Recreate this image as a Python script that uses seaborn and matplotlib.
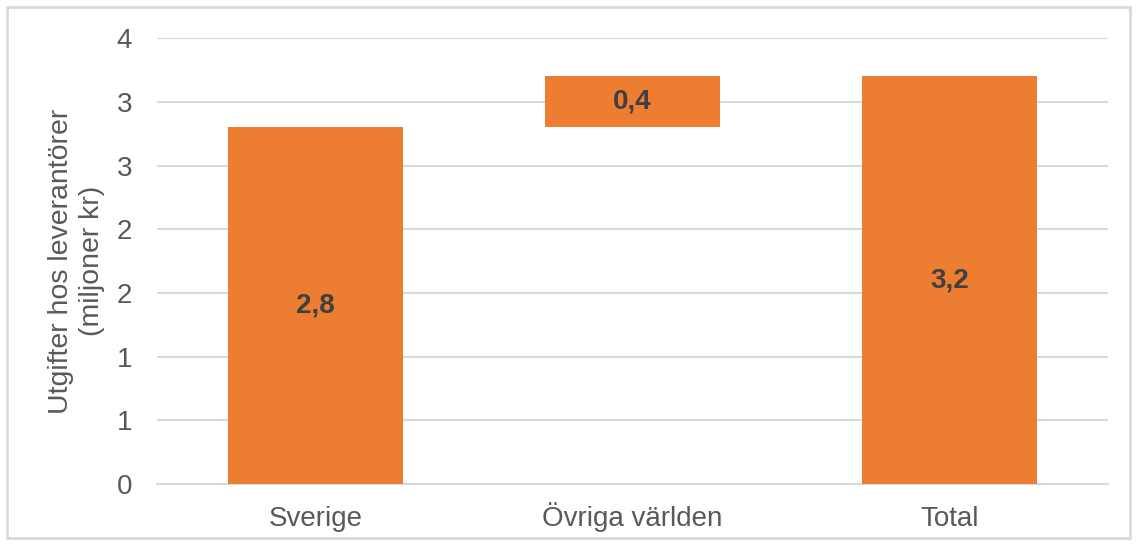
import numpy as np
import pandas as pd
import matplotlib
matplotlib.use("Agg")
import matplotlib.pyplot as plt
from matplotlib.ticker import FuncFormatter, MultipleLocator
import seaborn as sns

categories = ["Sverige", "Övriga världen", "Total"]
values = [2.8, 0.4, 3.2]
bases = [0.0, 2.8, 0.0]  # waterfall: floating bar starts where Sverige ends
labels = ["2,8", "0,4", "3,2"]

ORANGE = "#ED7D31"
GRAY = "#595959"
GRID = "#D9D9D9"

sns.set_theme(style="white")
plt.rcParams["font.family"] = ["Liberation Sans", "DejaVu Sans"]

df = pd.DataFrame({"kategori": categories, "varde": values})

fig = plt.figure(figsize=(11.37, 5.45), dpi=100)
ax = fig.add_axes([0.138, 0.112, 0.8365, 0.818])

sns.barplot(data=df, x="kategori", y="varde", color=ORANGE, saturation=1,
            width=0.552, bottom=bases, ax=ax, zorder=3, linewidth=0)

ax.bar_label(ax.containers[0], labels=labels, label_type="center",
             fontsize=20, fontweight="bold", color="#404040")

ax.set_ylim(0, 3.5)
ax.set_xlim(-0.5, 2.5)
ax.yaxis.set_major_locator(MultipleLocator(0.5))
# Excel-style rounding of the tick labels
ax.yaxis.set_major_formatter(FuncFormatter(lambda v, p: f"{int(np.floor(v + 0.5))}"))
ax.grid(axis="y", color=GRID, linewidth=1.5, zorder=0)

for s in ["top", "right", "left"]:
    ax.spines[s].set_visible(False)
ax.spines["bottom"].set_color(GRID)
ax.spines["bottom"].set_linewidth(1.5)

ax.tick_params(axis="both", length=0, labelsize=20, labelcolor=GRAY)
ax.tick_params(axis="y", pad=18)
ax.tick_params(axis="x", pad=30)
# keep the baselines level ("Ö" would otherwise push its label down)
for t in ax.get_xticklabels():
    t.set_va("baseline")
ax.set_xlabel("")
ax.set_ylabel("Utgifter hos leverantörer\n(miljoner kr)", fontsize=20.5, color=GRAY,
              labelpad=8, linespacing=1.25)

# thin frame around the whole figure
fig.patches.append(plt.Rectangle((0.006, 0.012), 0.988, 0.976, transform=fig.transFigure,
                                 fill=False, edgecolor="#D9D9D9", linewidth=2))

fig.savefig("out.png", dpi=100)
